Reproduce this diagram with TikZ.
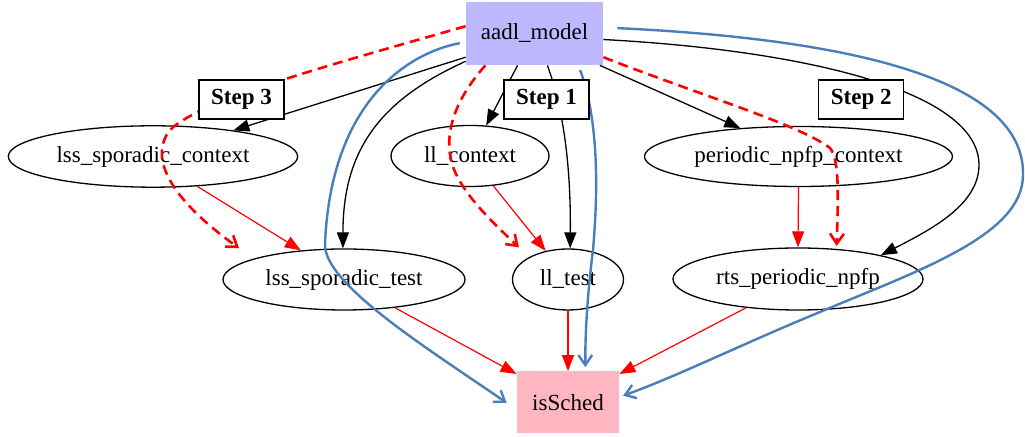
\documentclass[tikz,border=0pt]{standalone}
\usepackage{fontspec}
\setmainfont{Liberation Serif}
\usepackage{xcolor}
\usetikzlibrary{arrows.meta,shapes.geometric,positioning}
\definecolor{aadlfill}{RGB}{192,184,255}
\definecolor{schedfill}{RGB}{255,182,193}
\definecolor{schblue}{RGB}{74,126,187}

\begin{document}
\begin{tikzpicture}[
  x=0.5pt, y=-0.5pt,
  every node/.style = {font=\fontsize{11.5}{13}\selectfont, inner sep=0pt},
  src/.style  = {rectangle, fill=aadlfill, minimum width=68.5pt, minimum height=31.5pt},
  sink/.style = {rectangle, fill=schedfill, minimum width=51pt, minimum height=31pt},
  ell/.style  = {draw, ellipse, line width=0.65pt},
  lbl/.style  = {draw, fill=white, line width=0.65pt,
                 font=\fontsize{11.5}{13}\selectfont\bfseries,
                 minimum width=42.5pt, minimum height=19.5pt},
  arr/.style  = {-{Triangle[length=8pt,width=6pt]}, line width=0.65pt},
  arrR/.style = {-{Triangle[length=8pt,width=6pt]}, line width=0.6pt, red},
  arrD/.style = {-{Straight Barb[length=5pt,width=7pt]}, line width=1.3pt, red,
                 dash pattern=on 5pt off 3pt},
  arrB/.style = {-{Straight Barb[length=5pt,width=7pt]}, line width=1.2pt, schblue},
]
\useasboundingbox (0,0) rectangle (1025,437);

%% ---------- NODES ----------
\node[src] (aadl) at (534.5,33.5) {aadl\_model};

\node[ell, minimum width=144.7pt, minimum height=30.7pt] (lsc) at (153,156.5) {lss\_sporadic\_context};
\node[ell, minimum width=79pt,    minimum height=30.5pt] (llc) at (470,156)   {ll\_context};
\node[ell, minimum width=154pt,   minimum height=30pt]   (pnc) at (798.5,156.5) {periodic\_npfp\_context};

\node[ell, minimum width=121pt,   minimum height=30.5pt] (lst) at (344,279.5) {lss\_sporadic\_test};
\node[ell, minimum width=55.5pt,  minimum height=30.5pt] (llt) at (568,279.5) {ll\_test};
\node[ell, minimum width=125pt,   minimum height=31pt]   (rpn) at (798,279)   {rts\_periodic\_npfp};

\node[sink] (isS) at (568,402.5) {isSched};

%% ---------- black ----------
\draw[arr] (aadl.199) -- (lsc.18);
\draw[arr] (aadl.242) -- (llc.62);
\draw[arr] (aadl.-68) .. controls (562,105) and (571,160) .. (llt.86);
\draw[arr] (aadl.-26) -- (pnc.154);
\draw[arr] (aadl.-5) .. controls (800,50) and (979,90) .. (979,165)
                     .. controls (979,205) and (930,230) .. (rpn.16);
\draw[arr] (aadl.202) .. controls (380,100) and (343,150) .. (lst.92);

%% ---------- red ----------
\draw[arrR] (lsc.-34) -- (lst.146);
\draw[arrR] (llc.-52) -- (llt.128);
\draw[arrR] (pnc.south) -- (rpn.north);
\draw[arrR] (lst.-29) -- (isS.151);
\draw[arrR] (llt.south) -- (isS.north);
\draw[arrR] (rpn.209) -- (isS.29);

%% ---------- red dashed ----------
\draw[arrD, shorten >=9pt] (aadl.174) .. controls (330,65) and (200,100) .. (170,130)
                           .. controls (150,155) and (165,195) .. (lst.167);
\draw[arrD, shorten >=7pt] (aadl.-147) .. controls (450,105) and (440,145) .. (458,178)
                           .. controls (470,200) and (490,220) .. (llt.150);
\draw[arrD, shorten >=1.5pt] (aadl.-19) .. controls (700,95) and (800,125) .. (830,148)
                             .. controls (840,160) and (838,200) .. (rpn.38);

%% ---------- blue ----------
\draw[arrB, shorten <=3pt, shorten >=6pt] (aadl.187) .. controls (400,55) and (330,110) .. (325,245)
      .. controls (325,285) and (430,350) .. (isS.188);
\draw[arrB, shorten <=2.5pt, shorten >=2pt] (aadl.-36) .. controls (595,110) and (600,170) .. (593,250)
      .. controls (588,290) and (585,330) .. (isS.61);
\draw[arrB, shorten <=7pt, shorten >=2pt] (aadl.5) .. controls (870,40) and (1025,85) .. (1023,175)
      .. controls (1023,235) and (920,270) .. (820,312)
      .. controls (740,345) and (680,375) .. (isS.6);

%% ---------- step labels ----------
\node[lbl] (s3) at (241.5,99.5) {Step 3};
\node[lbl] (s1) at (546.5,99.5) {Step 1};
\node[lbl] (s2) at (861.3,99.5) {Step 2};

\end{tikzpicture}
\end{document}
